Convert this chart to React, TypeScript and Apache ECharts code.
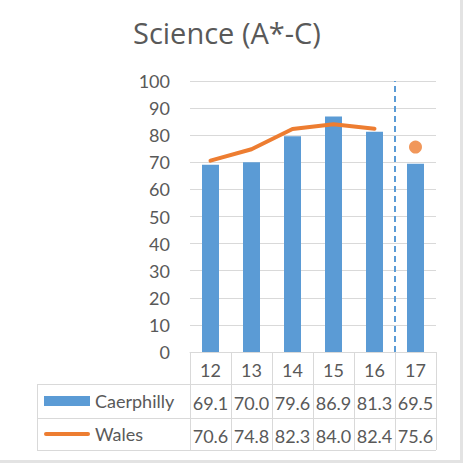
import React, { useEffect, useRef } from "react";
import * as echarts from "echarts";

const years = ["12", "13", "14", "15", "16", "17"];
const caerphilly = [69.1, 70.0, 79.6, 86.9, 81.3, 69.5];
const wales = [70.6, 74.8, 82.3, 84.0, 82.4, 75.6];
const yTicks = { min: 0, max: 100, interval: 10 };
const dividerAt = 4.5; // boundary between "16" and "17"

const TEXT = "#595959";
const GRID = "#d9d9d9";
const BLUE = "#5B9BD5";
const ORANGE = "#ED7D31";
const FONT = "Lato";

export default function App() {
  const ref = useRef<HTMLDivElement>(null);
  useEffect(() => {
    if (!ref.current) return;
    const chart = echarts.init(ref.current, null, { renderer: "svg" });
    const lineData = wales.map((v, i) => (i < wales.length - 1 ? v : "-"));
    const pointData = wales.map((v, i) => (i === wales.length - 1 ? v : "-"));
    chart.setOption({
      animation: false,
      backgroundColor: "#ffffff",
      title: {
        text: "Science (A*-C)",
        left: 133,
        top: 18,
        padding: 0,
        textStyle: { fontFamily: "Open Sans", fontSize: 29, fontWeight: "normal", color: TEXT },
      },
      legend: {
        orient: "vertical",
        left: 44,
        top: 391,
        itemWidth: 46,
        itemHeight: 10,
        itemGap: 13,
        padding: 0,
        selectedMode: false,
        textStyle: { fontFamily: FONT, fontSize: 18, color: TEXT, lineHeight: 20 },
        data: [
          { name: "Caerphilly", icon: "rect" },
          {
            name: "Wales",
            icon: "path://M2,0h42a2,2 0 0 1 0,4h-42a2,2 0 0 1 0,-4z",
            itemStyle: { color: ORANGE },
          },
        ],
      },
      grid: { left: 190, right: 29, top: 81, bottom: 121 },
      xAxis: [
        {
          type: "category",
          data: years,
          boundaryGap: true,
          axisLine: { show: true, lineStyle: { color: GRID, width: 1 } },
          axisTick: { show: true, length: 98, alignWithLabel: false, lineStyle: { color: GRID, width: 1 } },
          axisLabel: {
            interval: 0,
            margin: 1,
            fontFamily: FONT,
            fontSize: 18,
            color: TEXT,
            lineHeight: 33,
            formatter: (value: string, index: number) =>
              `${value}\n${caerphilly[index].toFixed(1)}\n${wales[index].toFixed(1)}`,
          },
        },
        {
          type: "value",
          show: false,
          min: -0.5,
          max: years.length - 0.5,
          splitLine: { show: false },
        },
      ],
      yAxis: {
        type: "value",
        min: yTicks.min,
        max: yTicks.max,
        interval: yTicks.interval,
        axisLine: { show: false },
        axisTick: { show: false },
        axisLabel: { margin: 20, fontFamily: FONT, fontSize: 18, color: TEXT },
        splitLine: { show: true, lineStyle: { color: GRID, width: 1 } },
      },
      series: [
        {
          name: "Caerphilly",
          type: "bar",
          data: caerphilly,
          barWidth: 17,
          itemStyle: { color: BLUE },
        },
        {
          name: "Wales",
          type: "line",
          data: lineData,
          symbol: "none",
          smooth: false,
          color: ORANGE,
          lineStyle: { color: ORANGE, width: 4, cap: "round", join: "round" },
          itemStyle: { color: ORANGE },
          z: 3,
        },
        {
          name: "Wales 17",
          type: "scatter",
          data: pointData,
          symbol: "circle",
          symbolSize: 13,
          itemStyle: { color: ORANGE },
          z: 4,
        },
        {
          name: "divider",
          type: "scatter",
          xAxisIndex: 1,
          data: [],
          markLine: {
            silent: true,
            symbol: "none",
            label: { show: false },
            lineStyle: { color: BLUE, width: 2, type: [6, 4] },
            data: [{ xAxis: dividerAt }],
          },
        },
      ],
      graphic: [
        { type: "line", shape: { x1: 37, y1: 384.5, x2: 436, y2: 384.5 }, style: { stroke: GRID, lineWidth: 1 } },
        { type: "line", shape: { x1: 37, y1: 418.5, x2: 436, y2: 418.5 }, style: { stroke: GRID, lineWidth: 1 } },
        { type: "line", shape: { x1: 37, y1: 450.5, x2: 436, y2: 450.5 }, style: { stroke: GRID, lineWidth: 1 } },
        { type: "line", shape: { x1: 37.5, y1: 384, x2: 37.5, y2: 451 }, style: { stroke: GRID, lineWidth: 1 } },
        { type: "rect", shape: { x: 460, y: 0, width: 3, height: 463 }, style: { fill: "#e3e3e3" } },
        { type: "rect", shape: { x: 0, y: 460, width: 463, height: 3 }, style: { fill: "#e3e3e3" } },
      ],
    });
    return () => chart.dispose();
  }, []);
  return (
    <div
      ref={ref}
      style={{ position: "fixed", left: 0, top: 0, width: 465, height: 473, background: "#fff" }}
    />
  );
}
